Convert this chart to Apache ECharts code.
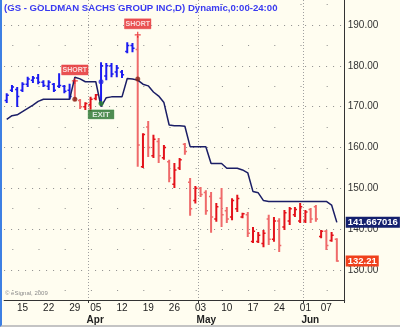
<!DOCTYPE html>
<html><head><meta charset="utf-8">
<script src="https://cdn.jsdelivr.net/npm/echarts@6/dist/echarts.min.js"></script>
<style>
html,body{margin:0;padding:0;background:#fffdf0;}
#c{position:absolute;left:0;top:0;width:398px;height:325px;border-left:2px solid #3d7fe3;border-bottom:2px solid #c4c4c4;background:#fffdf0;}
</style></head><body><div id="c"></div>
<script>
// trading days (last one is an empty future slot)
const dates = ['2010-03-10','2010-03-11','2010-03-12','2010-03-15','2010-03-16','2010-03-17','2010-03-18','2010-03-19',
'2010-03-22','2010-03-23','2010-03-24','2010-03-25','2010-03-26','2010-03-29','2010-03-30','2010-03-31','2010-04-01',
'2010-04-05','2010-04-06','2010-04-07','2010-04-08','2010-04-09','2010-04-12','2010-04-13','2010-04-14','2010-04-15','2010-04-16',
'2010-04-19','2010-04-20','2010-04-21','2010-04-22','2010-04-23','2010-04-26','2010-04-27','2010-04-28','2010-04-29','2010-04-30',
'2010-05-03','2010-05-04','2010-05-05','2010-05-06','2010-05-07','2010-05-10','2010-05-11','2010-05-12','2010-05-13','2010-05-14',
'2010-05-17','2010-05-18','2010-05-19','2010-05-20','2010-05-21','2010-05-24','2010-05-25','2010-05-26','2010-05-27','2010-05-28',
'2010-06-01','2010-06-02','2010-06-03','2010-06-04','2010-06-07','2010-06-08','2010-06-09','2010-06-10'];
const monthNames = ['Jan','Feb','Mar','Apr','May','Jun','Jul','Aug','Sep','Oct','Nov','Dec'];

const open  = [171.5,174.0,174.2,174.0,175.5,176.5,177.0,176.0,175.0,175.5,175.0,175.0,174.0,176.0,171.5,170.0,170.5,172.0,171.0,177.5,180.0,178.5,178.5,183.5,185.0,184.0,155.3,165.0,158.0,161.5,157.5,156.5,151.0,155.0,160.8,151.5,147.0,150.0,149.0,148.0,142.5,147.6,144.5,143.0,145.0,143.0,143.5,137.0,137.0,136.5,142.5,137.5,142.0,140.5,142.0,143.5,142.0,142.0,144.8,145.5,138.2,139.5,137.2,137.5];
const high  = [173.3,175.3,174.8,176.0,177.3,177.5,178.0,176.5,176.5,175.8,178.2,175.3,175.6,176.5,171.9,171.1,172.4,173.1,180.9,180.7,180.7,180.2,179.0,185.8,185.6,187.3,163.5,166.5,163.1,162.3,160.6,157.0,156.2,157.4,161.1,152.5,150.6,150.3,149.5,149.1,146.4,150.1,145.4,147.6,148.4,144.0,144.2,140.5,139.3,139.8,143.5,143.0,142.7,144.7,145.4,145.4,146.4,144.7,145.2,145.9,139.8,139.8,139.3,137.8];
const low   = [170.9,173.6,169.9,173.6,174.8,175.8,175.5,174.8,174.1,173.6,174.6,173.3,171.8,171.4,169.4,169.2,168.9,171.6,170.5,176.5,177.2,177.2,177.0,183.1,183.3,155.3,155.0,157.7,157.4,156.2,157.0,151.5,150.1,154.5,158.2,143.3,146.3,147.9,143.5,139.1,141.8,140.5,141.5,142.2,144.2,142.7,138.1,136.6,136.6,135.6,136.1,136.9,134.4,139.8,141.0,143.0,141.5,141.5,141.5,141.8,137.8,134.9,136.9,132.0];
const close = [172.8,174.8,172.5,175.5,176.8,177.0,176.0,175.2,176.0,174.0,175.2,173.8,172.5,172.0,170.0,170.8,171.8,172.9,180.0,180.0,178.0,179.5,177.8,185.0,184.3,160.6,163.2,160.0,162.0,158.0,160.0,152.5,154.5,157.0,159.0,145.0,150.0,148.5,144.5,143.0,145.5,143.5,142.5,147.0,147.5,143.8,139.0,139.5,138.5,139.0,137.5,142.0,136.0,144.0,145.0,144.8,145.5,144.2,142.5,142.5,139.5,136.0,138.5,132.21];
// dynamic trailing stop
const stop  = [166.9,167.8,168.0,168.8,169.6,170.4,171.3,171.8,171.8,171.8,171.8,171.8,171.8,177.2,176.8,176.1,176.1,176.1,170.0,172.2,172.4,172.4,172.4,176.9,176.8,176.5,175.5,175.1,173.6,172.6,171.0,165.5,165.3,165.3,165.2,160.2,160.2,160.2,160.2,156.1,156.1,156.1,154.9,154.9,154.9,154.5,153.8,149.2,148.9,147.0,146.8,146.8,146.8,146.8,146.8,146.8,146.8,146.8,146.8,146.8,146.8,146.8,145.9,141.667016];

// trade signals
const shortBars  = [13, 25];
const shortMarks = [176.3, 187.6];
const shortFills = [171.8, 176.8];
const exitBars   = [18];
const exitFills  = [170.8];
const longFills  = [176.1];

const side = open.map((_, i) => {
  let last = -1, s = 0;
  shortBars.forEach(b => { if (b <= i && b > last) { last = b; s = 1; } });
  exitBars.forEach(b => { if (b <= i && b > last) { last = b; s = 0; } });
  return s;
});
const ohlc = open.map((o, i) => [i, o, high[i], low[i], close[i], side[i]]);
const dow = i => new Date(dates[i] + 'T00:00:00Z').getUTCDay();
const weekStart = i => i > 0 && i < stop.length && dow(i) < dow(i - 1);
const monthStart = i => i > 0 && dates[i].slice(5, 7) !== dates[i - 1].slice(5, 7);

const GL = 2.1, GR = 55.3;
const chart = echarts.init(document.getElementById('c'));
const FONT = "'Liberation Sans', Arial, sans-serif";
const lastLabel = (val, bg) => ({
  yAxis: val,
  lineStyle: { color: 'rgba(0,0,0,0)', width: 0 },
  label: { show: true, opacity: 1, position: 'end', distance: 1, formatter: String(val), color: '#ffffff',
    fontWeight: 'bold', fontSize: 9.5, lineHeight: 10, padding: [1, 2, 0, 2], backgroundColor: bg, fontFamily: FONT }
});
chart.setOption({
  animation: false,
  backgroundColor: '#fffdf0',
  textStyle: { fontFamily: FONT },
  title: [
    { text: '(GS - GOLDMAN SACHS GROUP INC,D) Dynamic,0:00-24:00', left: 2, top: 3, padding: 0,
      textStyle: { color: '#3a3af0', fontSize: 9.6, fontWeight: 'bold', fontFamily: FONT } },
    { text: '© eSignal, 2009', left: 3, top: 290, padding: 0,
      textStyle: { color: '#8a8a8a', fontSize: 6, fontWeight: 'normal', fontFamily: FONT } }
  ],
  grid: [
    { left: GL, right: GR, top: -15.83, bottom: 14.17, outerBoundsMode: 'none', containLabel: false },
    { left: GL, right: GR, top: 0, bottom: 25, outerBoundsMode: 'none', containLabel: false }
  ],
  xAxis: [
    { gridIndex: 0, type: 'category', data: dates, boundaryGap: true, show: false },
    { gridIndex: 1, type: 'category', data: dates, boundaryGap: true, position: 'bottom',
      axisLine: { show: true, lineStyle: { color: '#333', width: 1 } },
      axisTick: { show: true, interval: (i) => monthStart(i), length: 3, lineStyle: { color: '#333' } },
      axisLabel: { interval: (i) => weekStart(i), formatter: v => v.slice(8, 10), color: '#222', fontSize: 10, margin: 3, fontFamily: FONT },
      splitLine: { show: true, interval: (i) => monthStart(i), lineStyle: { color: '#a0a0a0', type: [1, 2] } } },
    { gridIndex: 1, type: 'category', data: dates, boundaryGap: true, position: 'bottom', offset: 12,
      axisLine: { show: false }, axisTick: { show: false }, splitLine: { show: false },
      axisLabel: { interval: (i) => monthStart(i), formatter: v => monthNames[+v.slice(5, 7) - 1], align: 'left',
        padding: [0, 0, 0, -4], color: '#222', fontSize: 10, fontWeight: 'bold', margin: 3, fontFamily: FONT } }
  ],
  yAxis: [
    { gridIndex: 0, type: 'value', position: 'right', min: 120, max: 200, interval: 10,
      axisLine: { show: false }, axisTick: { show: false },
      axisLabel: { showMinLabel: false, showMaxLabel: false, formatter: v => v.toFixed(2), color: '#333', fontSize: 10, margin: 3, fontFamily: FONT },
      splitLine: { show: true, showMinLine: false, showMaxLine: false, lineStyle: { color: '#8c8c8c', type: [1, 6] } },
      minorTick: { show: false, splitNumber: 2 },
      minorSplitLine: { show: true, lineStyle: { color: '#8c8c8c', type: [1, 25.2], dashOffset: 18 } } },
    { gridIndex: 1, type: 'value', position: 'right', min: 0, max: 1,
      axisLine: { show: true, lineStyle: { color: '#333' } }, axisTick: { show: false },
      axisLabel: { show: false }, splitLine: { show: false } }
  ],
  series: [
    { type: 'custom', xAxisIndex: 0, yAxisIndex: 0, data: ohlc, encode: { x: 0, y: [1, 2, 3, 4] }, clip: true,
      renderItem(params, api) {
        const i = api.value(0);
        const o = api.coord([i, api.value(1)]), h = api.coord([i, api.value(2)]);
        const l = api.coord([i, api.value(3)]), c = api.coord([i, api.value(4)]);
        const w = api.size([1, 0])[0] * 0.4;
        const up = api.value(4) >= api.value(1);
        const color = api.value(5) ? (up ? '#e3121a' : '#ef6a6a') : '#1c1cf0';
        return { type: 'group', children: [
          { type: 'line', shape: { x1: h[0], y1: h[1], x2: l[0], y2: l[1] }, style: { stroke: color, lineWidth: 2 } },
          { type: 'line', shape: { x1: o[0] - w, y1: o[1], x2: o[0], y2: o[1] }, style: { stroke: color, lineWidth: 1.5 } },
          { type: 'line', shape: { x1: c[0], y1: c[1], x2: c[0] + w, y2: c[1] }, style: { stroke: color, lineWidth: 1.5 } }
        ] };
      } },
    { type: 'line', xAxisIndex: 0, yAxisIndex: 0, data: stop, symbol: 'none', z: 3, clip: false,
      lineStyle: { color: '#1b1e66', width: 1.5 },
      markLine: { silent: true, symbol: 'none', animation: false, z: 10,
        data: [ lastLabel(stop[stop.length - 1], '#14206e'), lastLabel(close[close.length - 1], '#f0401c') ] } },
    { type: 'scatter', xAxisIndex: 0, yAxisIndex: 0, z: 4, symbol: 'path://M2,0H3V2H5V3H3V5H2V3H0V2H2Z', symbolSize: 6,
      itemStyle: { color: '#e8161c' },
      label: { show: true, position: 'top', distance: 3, formatter: 'SHORT', color: '#fff', fontWeight: 'bold', fontSize: 7,
        lineHeight: 8, backgroundColor: '#e3262b', borderColor: '#f3a0a0', borderWidth: 0.5, padding: [1, 1, 1, 1], fontFamily: FONT },
      data: shortBars.map((b, k) => [b, shortMarks[k]]) },
    { type: 'scatter', xAxisIndex: 0, yAxisIndex: 0, z: 4, symbol: 'circle', symbolSize: 5,
      itemStyle: { color: '#8b2416' }, data: shortBars.map((b, k) => [b, shortFills[k]]) },
    { type: 'scatter', xAxisIndex: 0, yAxisIndex: 0, z: 4, symbol: 'circle', symbolSize: 5,
      itemStyle: { color: '#2323e0' }, data: exitBars.map((b, k) => [b, longFills[k]]) },
    { type: 'scatter', xAxisIndex: 0, yAxisIndex: 0, z: 4, symbol: 'circle', symbolSize: 5,
      itemStyle: { color: '#2e8b2e' },
      label: { show: true, position: 'bottom', distance: 4, formatter: 'EXIT', color: '#fff', fontWeight: 'bold', fontSize: 8,
        lineHeight: 8, backgroundColor: '#23702a', borderColor: '#9fc89f', borderWidth: 0.5, padding: [1, 4, 0, 4], fontFamily: FONT },
      data: exitBars.map((b, k) => [b, exitFills[k]]) }
  ]
});
</script></body></html>
